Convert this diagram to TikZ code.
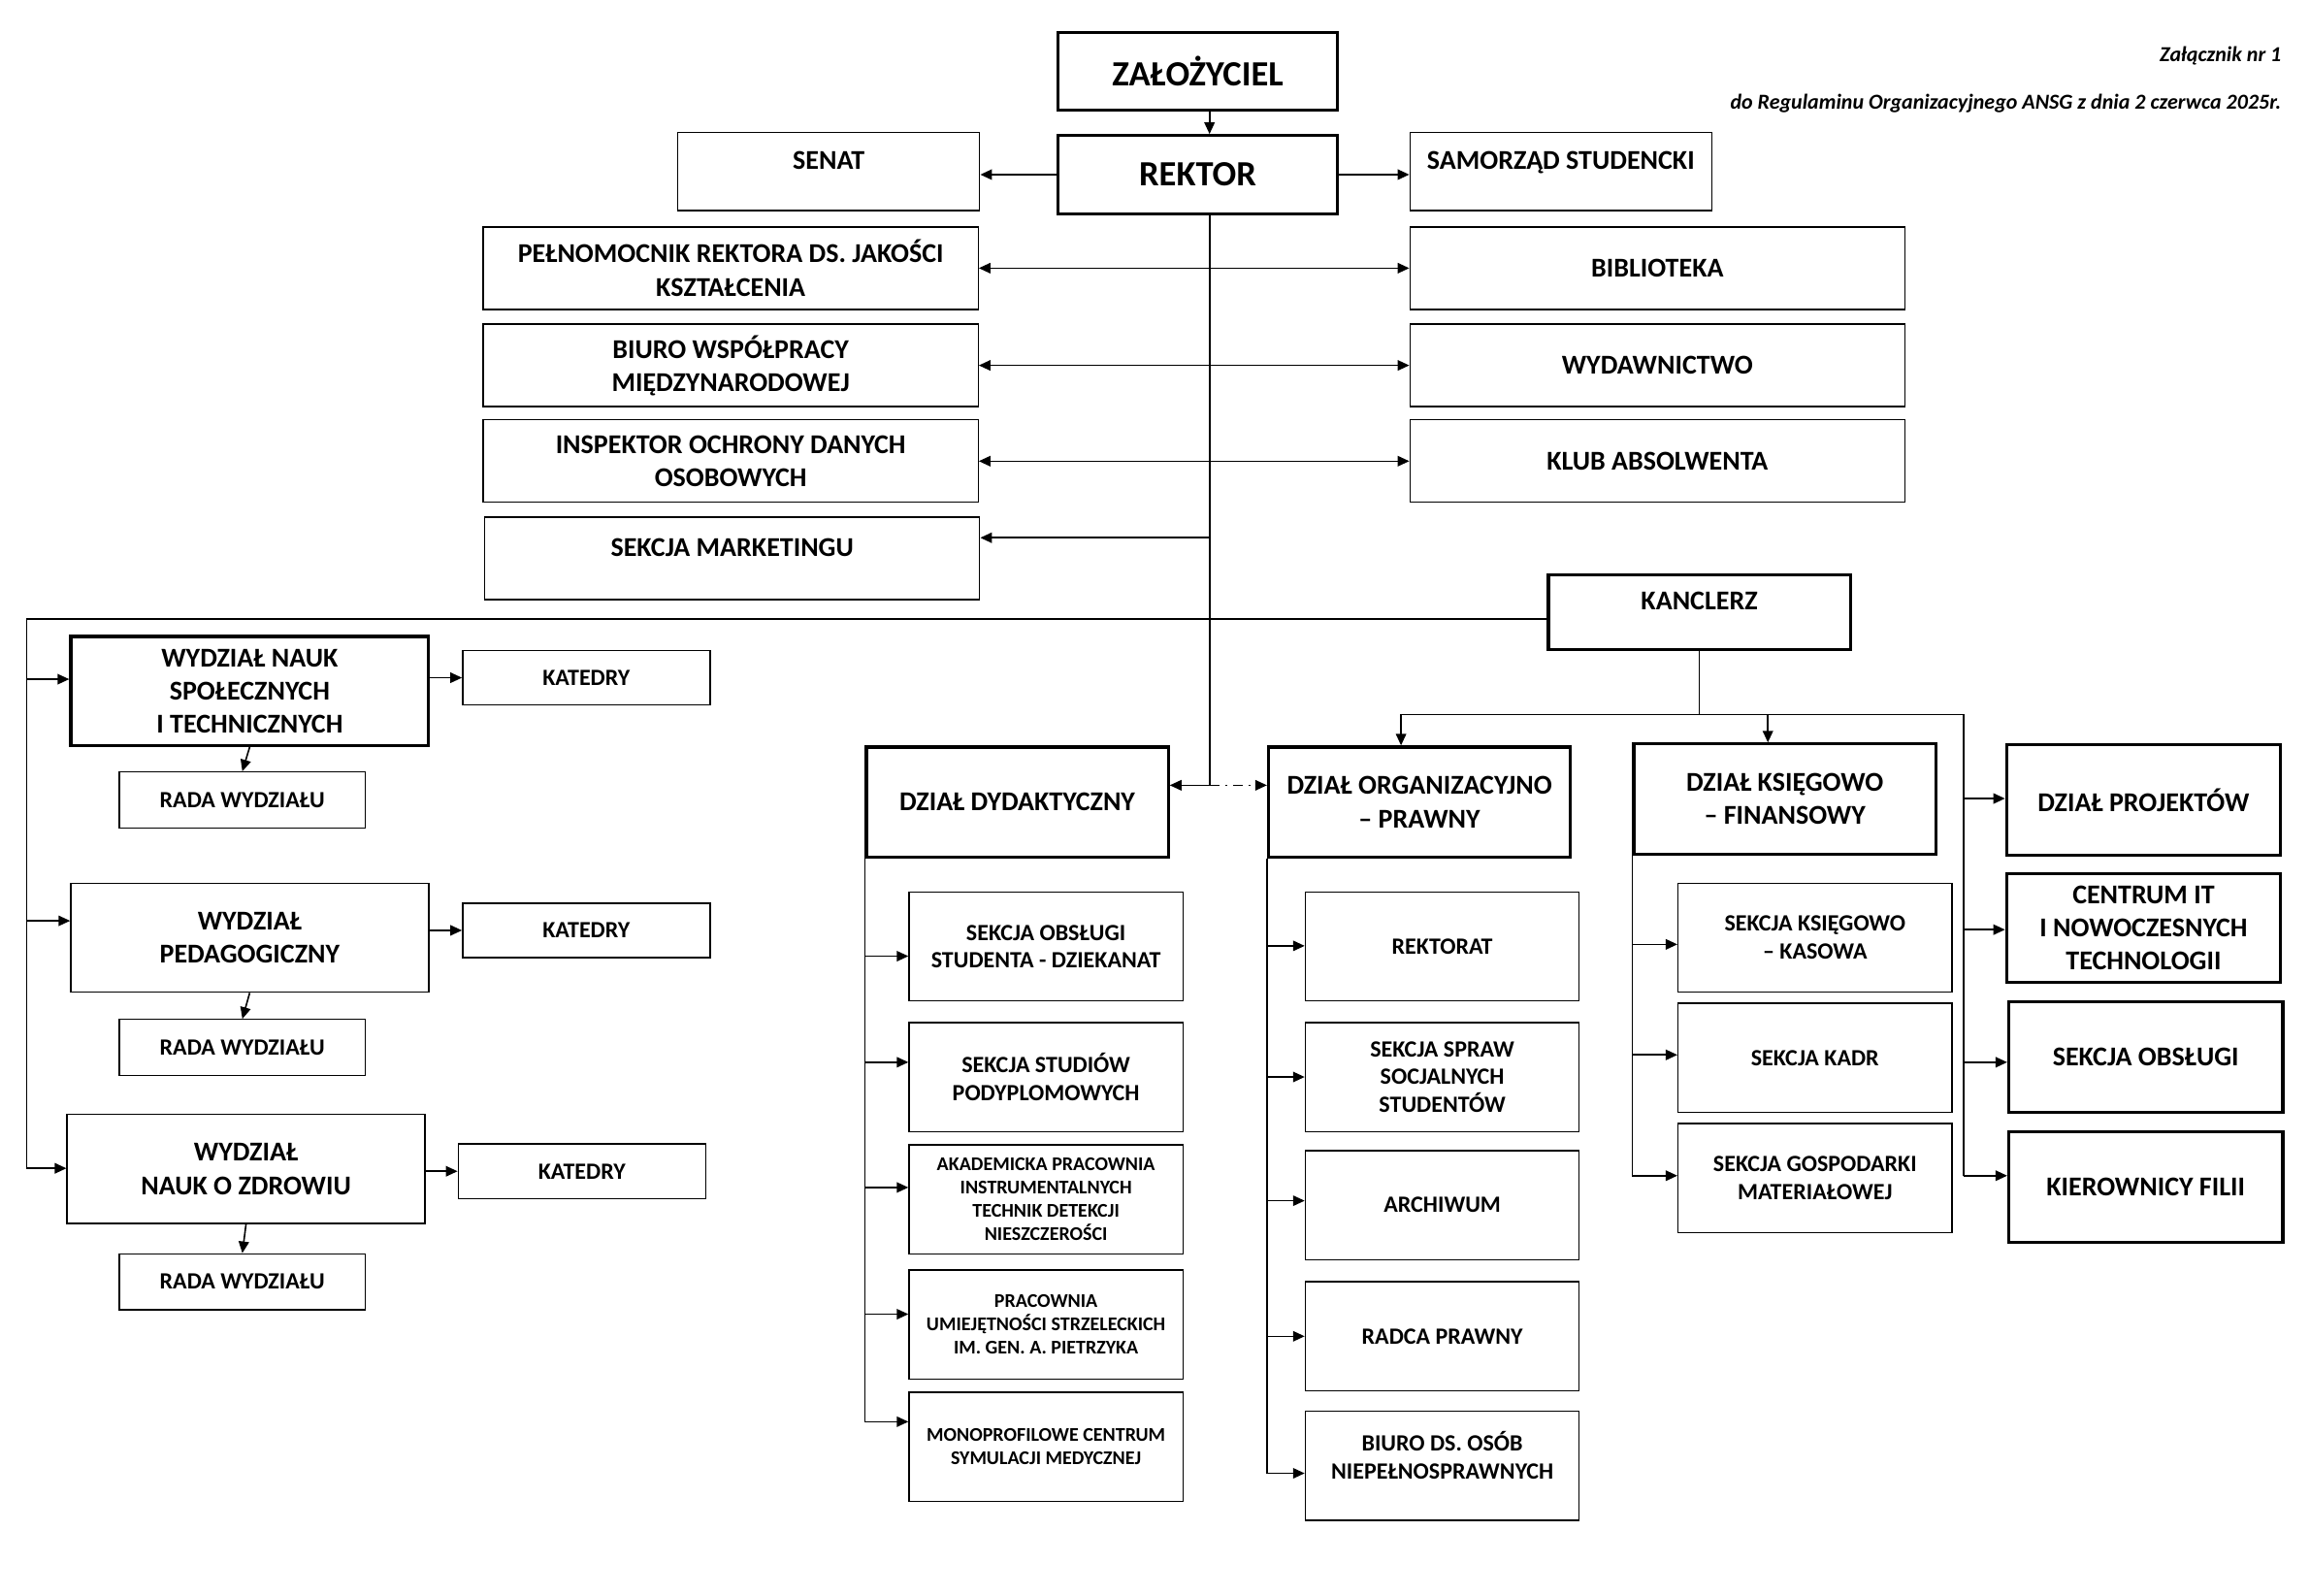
\documentclass[tikz,border=0pt]{standalone}
\usepackage{fontspec}
\setmainfont{Carlito}
\usetikzlibrary{arrows.meta}

\begin{document}
\begin{tikzpicture}[x=0.02cm,y=-0.02cm,>={Triangle[length=4.5pt,width=4pt]},line width=0.6pt]
\tikzstyle{box}=[draw,line width=0.5pt,align=center,inner sep=2pt,font=\bfseries\fontsize{10.5}{12.8}\selectfont]
\tikzstyle{head}=[box,line width=1.2pt]
\tikzstyle{big}=[font=\bfseries\fontsize{13.7}{16}\selectfont]
\tikzstyle{small}=[font=\bfseries\fontsize{9}{10.8}\selectfont]
\tikzstyle{tiny}=[font=\bfseries\fontsize{7.5}{9.1}\selectfont]
\tikzstyle{uptext}=[text depth=0.3cm]
\tikzstyle{side}=[box,uptext,minimum width=4.1cm,minimum height=1.06cm]
\tikzstyle{wide}=[box,minimum width=6.72cm,minimum height=1.12cm]
\tikzstyle{fac}=[box,minimum width=4.86cm,minimum height=1.48cm]
\tikzstyle{kat}=[box,small,minimum width=3.36cm,minimum height=0.74cm]
\tikzstyle{rada}=[box,small,minimum width=3.34cm,minimum height=0.76cm]
\tikzstyle{dept}=[head,minimum width=4.1cm,minimum height=1.5cm]
\tikzstyle{unit}=[head,minimum width=3.72cm,minimum height=1.5cm]
\tikzstyle{sec}=[box,small,minimum width=3.72cm,minimum height=1.48cm]
\tikzstyle{note}=[anchor=base east,inner sep=0pt,font=\bfseries\itshape\fontsize{8.25}{10}\selectfont]
\useasboundingbox (0,0) rectangle (1568,1082.7);

\node[note] (zal1) at (1549,42) {Załącznik nr 1};
\node[note] (regul) at (1549,74) {do Regulaminu Organizacyjnego ANSG z dnia 2 czerwca 2025r.};

\node[head,big,minimum width=3.8cm,minimum height=1.06cm] (zal) at (813,48.5) {ZAŁOŻYCIEL};
\node[head,big,minimum width=3.8cm,minimum height=1.06cm] (rek) at (813,118.5) {REKTOR};
\node[side] (senat) at (562.5,116.5) {SENAT};
\node[side] (samorzad) at (1059.5,116.5) {SAMORZĄD STUDENCKI};
\node[wide] (pelnom) at (496,182) {PEŁNOMOCNIK REKTORA DS. JAKOŚCI\\KSZTAŁCENIA};
\node[wide] (biblio) at (1125,182) {BIBLIOTEKA};
\node[wide] (biuro) at (496,248) {BIURO WSPÓŁPRACY\\MIĘDZYNARODOWEJ};
\node[wide] (wydaw) at (1125,248) {WYDAWNICTWO};
\node[wide] (iodo) at (496,313) {INSPEKTOR OCHRONY DANYCH\\OSOBOWYCH};
\node[wide] (klub) at (1125,313) {KLUB ABSOLWENTA};
\node[wide,uptext] (marketing) at (497,379) {SEKCJA MARKETINGU};
\node[head,uptext,minimum width=4.1cm,minimum height=1.02cm] (kanclerz) at (1153.5,415.5) {KANCLERZ};

\node[fac,line width=1.2pt] (w1) at (169.5,469) {WYDZIAŁ NAUK\\SPOŁECZNYCH\\I TECHNICZNYCH};
\node[kat] (kat1) at (398,460) {KATEDRY};
\node[rada] (rada1) at (164.5,543) {RADA WYDZIAŁU};
\node[fac] (w2) at (169.5,636.5) {WYDZIAŁ\\PEDAGOGICZNY};
\node[kat] (kat2) at (398,631.5) {KATEDRY};
\node[rada] (rada2) at (164.5,711) {RADA WYDZIAŁU};
\node[fac] (w3) at (167,793.5) {WYDZIAŁ\\NAUK O ZDROWIU};
\node[kat] (kat3) at (395,795) {KATEDRY};
\node[rada] (rada3) at (164.5,870) {RADA WYDZIAŁU};

\node[dept] (dyd) at (690.5,544.5) {DZIAŁ DYDAKTYCZNY};
\node[dept] (org) at (963.5,544.5) {DZIAŁ ORGANIZACYJNO\\– PRAWNY};
\node[dept] (ksieg) at (1211.5,542.5) {DZIAŁ KSIĘGOWO\\– FINANSOWY};
\node[unit] (proj) at (1455,543) {DZIAŁ PROJEKTÓW};
\node[unit,minimum height=1.48cm] (centrum) at (1455,630) {CENTRUM IT\\I NOWOCZESNYCH\\TECHNOLOGII};
\node[unit] (obsl) at (1456.5,717.5) {SEKCJA OBSŁUGI};
\node[unit] (kier) at (1456.5,805.5) {KIEROWNICY FILII};

\node[sec] (dziekanat) at (710,642.5) {SEKCJA OBSŁUGI\\STUDENTA - DZIEKANAT};
\node[sec] (podypl) at (710,731) {SEKCJA STUDIÓW\\PODYPLOMOWYCH};
\node[sec,tiny] (apitdn) at (710,814) {AKADEMICKA PRACOWNIA\\INSTRUMENTALNYCH\\TECHNIK DETEKCJI\\NIESZCZEROŚCI};
\node[sec,tiny] (strzel) at (710,899) {PRACOWNIA\\UMIEJĘTNOŚCI STRZELECKICH\\IM. GEN. A. PIETRZYKA};
\node[sec,tiny] (monoprof) at (710,982) {MONOPROFILOWE CENTRUM\\SYMULACJI MEDYCZNEJ};

\node[sec] (rektorat) at (979,642.5) {REKTORAT};
\node[sec] (socjal) at (979,731) {SEKCJA SPRAW\\SOCJALNYCH\\STUDENTÓW};
\node[sec] (archiwum) at (979,818) {ARCHIWUM};
\node[sec] (radca) at (979,907) {RADCA PRAWNY};
\node[sec,uptext] (bon) at (979,995) {BIURO DS. OSÓB\\NIEPEŁNOSPRAWNYCH};

\node[sec] (kasowa) at (1232,636.5) {SEKCJA KSIĘGOWO\\– KASOWA};
\node[sec] (kadr) at (1232,718) {SEKCJA KADR};
\node[sec] (gosp) at (1232,799.5) {SEKCJA GOSPODARKI\\MATERIAŁOWEJ};

\coordinate (trunk) at (821,533);
\draw[->] (zal.south -| trunk) -- (rek.north -| trunk);
\draw (rek.south -| trunk) -- (trunk);
\draw[->] (rek.west) -- (rek.west -| senat.east);
\draw[->] (rek.east) -- (rek.east -| samorzad.west);
\foreach \a/\b in {pelnom/biblio,biuro/wydaw,iodo/klub}
  \draw[<->] (\a) -- (\b);
\draw[->] (trunk |- 0,365) -- (marketing.east |- 0,365);
\draw[->] (trunk) -- (trunk -| dyd.east);
\draw[->,dash pattern=on 4pt off 2pt on 1pt off 2pt] (trunk) -- (trunk -| org.west);

\coordinate (lft) at (18,420);
\draw (kanclerz.west |- lft) -- (lft) -- (lft |- 0,793);
\foreach \n/\y in {w1/461,w2/625,w3/793}
  \draw[->] (lft |- 0,\y) -- (\n.west |- 0,\y);
\foreach \i in {1,2,3}{
  \draw[->] (w\i.east |- kat\i) -- (kat\i.west);
  \draw[->] (w\i.south) -- (rada\i.north);
}

\coordinate (kbus) at (1333,485);
\coordinate (kleft) at (951,485);
\coordinate (kmid) at (1200,485);
\draw (kanclerz.south) -- (kanclerz.south |- kbus);
\draw (kleft) -- (kbus) -- (kbus |- 0,798);
\draw[->] (kleft) -- (kleft |- org.north);
\draw[->] (kmid) -- (kmid |- ksieg.north);
\foreach \n/\y in {proj/542,centrum/631,obsl/721,kier/798}
  \draw[->] (kbus |- 0,\y) -- (\n.west |- 0,\y);

\draw (dyd.south west) -- (dyd.south west |- 0,965);
\foreach \n/\y in {dziekanat/649,podypl/721,apitdn/806,strzel/892,monoprof/965}
  \draw[->] (dyd.south west |- 0,\y) -- (\n.west |- 0,\y);
\draw (org.south west) -- (org.south west |- 0,1000);
\foreach \n/\y in {rektorat/642,socjal/731,archiwum/815,radca/907,bon/1000}
  \draw[->] (org.south west |- 0,\y) -- (\n.west |- 0,\y);
\draw (ksieg.south west) -- (ksieg.south west |- 0,798);
\foreach \n/\y in {kasowa/641,kadr/716,gosp/798}
  \draw[->] (ksieg.south west |- 0,\y) -- (\n.west |- 0,\y);
\end{tikzpicture}
\end{document}
